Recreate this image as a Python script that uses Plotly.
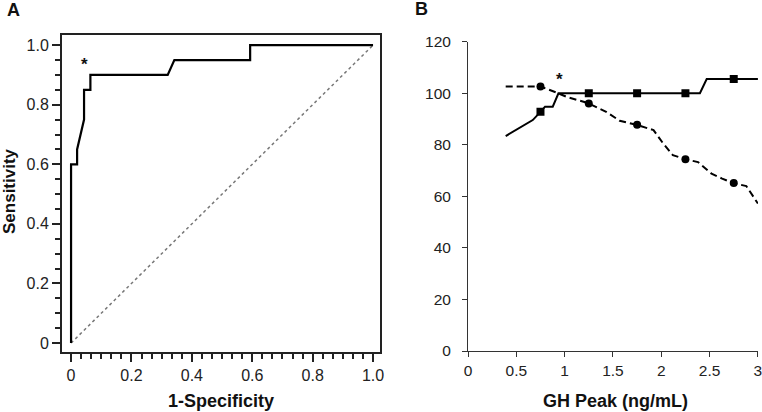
import plotly.graph_objects as go

# ---- Panel A: ROC curve ----
roc_fpr = [0, 0, 0.02, 0.02, 0.043, 0.043, 0.064, 0.064, 0.32, 0.342, 0.593, 0.593, 1.0]
roc_tpr = [0, 0.6, 0.6, 0.65, 0.75, 0.85, 0.85, 0.9, 0.9, 0.95, 0.95, 1.0, 1.0]
ref_x = [0, 1]
ref_y = [0, 1]
a_ticks = [0, 0.2, 0.4, 0.6, 0.8, 1.0]
a_ticktext = ["0", "0.2", "0.4", "0.6", "0.8", "1.0"]

# ---- Panel B: sensitivity / specificity vs GH peak ----
sens_x = [0.39, 0.67, 0.75, 0.797, 0.877, 0.936, 2.25, 2.40, 2.47, 2.74, 3.0]
sens_y = [83.4, 89.6, 92.8, 94.8, 94.8, 100, 100, 100, 105.5, 105.5, 105.5]
spec_x = [0.39, 0.75, 0.92, 1.02, 1.24, 1.43, 1.57, 1.74, 1.92, 2.02, 2.12, 2.25,
          2.38, 2.52, 2.63, 2.74, 2.88, 2.92, 3.0]
spec_y = [102.6, 102.6, 100.2, 98.6, 96.2, 92.8, 89.3, 87.8, 85.7, 80.5, 76.0, 74.4,
          73.3, 68.8, 66.9, 65.2, 64.0, 61.9, 57.2]
mark_x = [0.75, 1.25, 1.75, 2.25, 2.75]
sens_marks = [92.8, 100, 100, 100, 105.5]
spec_marks = [102.6, 96.0, 87.8, 74.4, 65.2]

W, H = 762, 412
font = "Liberation Sans, Arial, sans-serif"

fig = go.Figure()

fig.add_trace(go.Scatter(x=ref_x, y=ref_y, mode="lines",
                         line=dict(color="#777", width=1.5, dash="dot"),
                         xaxis="x", yaxis="y"))
fig.add_trace(go.Scatter(x=roc_fpr, y=roc_tpr, mode="lines",
                         line=dict(color="black", width=2.2),
                         xaxis="x", yaxis="y"))

fig.add_trace(go.Scatter(x=spec_x, y=spec_y, mode="lines",
                         line=dict(color="black", width=2, dash="7px,4px"),
                         xaxis="x2", yaxis="y2"))
fig.add_trace(go.Scatter(x=sens_x, y=sens_y, mode="lines",
                         line=dict(color="black", width=2),
                         xaxis="x2", yaxis="y2"))
fig.add_trace(go.Scatter(x=mark_x, y=spec_marks, mode="markers",
                         marker=dict(symbol="circle", size=8, color="black"),
                         xaxis="x2", yaxis="y2"))
fig.add_trace(go.Scatter(x=mark_x, y=sens_marks, mode="markers",
                         marker=dict(symbol="square", size=8, color="black"),
                         xaxis="x2", yaxis="y2"))

tickfont_a = dict(family=font, size=16, color="#222")
tickfont_b = dict(family=font, size=15.5, color="#222")

fig.update_layout(
    width=W, height=H,
    margin=dict(l=0, r=0, t=0, b=0, autoexpand=False),
    paper_bgcolor="white", plot_bgcolor="white",
    showlegend=False,
    font=dict(family=font),
    xaxis=dict(
        domain=[62 / W, 380 / W], range=[-0.03, 1.023],
        tickvals=a_ticks, ticktext=a_ticktext,
        showgrid=False, zeroline=False,
        showline=True, linecolor="#222", linewidth=2, mirror=True,
        ticks="outside", ticklen=8, tickwidth=1.5, tickcolor="#222",
        minor=dict(dtick=0.2 / 6, ticks="outside", ticklen=5, tickcolor="#222", tickwidth=1.5, showgrid=False),
        tickfont=tickfont_a, fixedrange=True,
    ),
    yaxis=dict(
        domain=[1 - 352 / H, 1 - 35 / H], range=[-0.03, 1.034],
        tickvals=a_ticks, ticktext=a_ticktext,
        showgrid=False, zeroline=False,
        showline=True, linecolor="#222", linewidth=2, mirror=True,
        ticks="outside", ticklen=8, tickwidth=1.5, tickcolor="#222",
        minor=dict(dtick=0.05, ticks="outside", ticklen=5, tickcolor="#222", tickwidth=1.5, showgrid=False),
        tickfont=tickfont_a, fixedrange=True,
    ),
    xaxis2=dict(
        domain=[468 / W, 758 / W], range=[0, 3.001], dtick=0.5,
        anchor="y2",
        showgrid=False, zeroline=False,
        showline=True, linecolor="#333", linewidth=1,
        ticks="outside", ticklen=5, tickcolor="#333",
        ticklabeloverflow="allow",
        tickfont=tickfont_b, fixedrange=True,
    ),
    yaxis2=dict(
        domain=[1 - 351 / H, 1 - 41.7 / H], range=[0, 120], dtick=20,
        anchor="x2",
        showgrid=False, zeroline=False,
        showline=True, linecolor="#333", linewidth=1,
        ticks="outside", ticklen=5, tickcolor="#333",
        ticklabelstandoff=8,
        tickfont=tickfont_b, fixedrange=True,
    ),
)

bold = dict(family=font, size=18, color="#111")
annos = [
    dict(text="<b>A</b>", x=13 / W, y=1 - 10 / H, font=dict(family=font, size=18, color="#111")),
    dict(text="<b>B</b>", x=421 / W, y=1 - 9 / H, font=dict(family=font, size=18, color="#111")),
    dict(text="<b>1-Specificity</b>", x=221 / W, y=1 - 401 / H, font=bold),
    dict(text="<b>GH Peak (ng/mL)</b>", x=615 / W, y=1 - 401 / H, font=bold),
    dict(text="<b>Sensitivity</b>", x=9 / W, y=1 - 191 / H,
         font=dict(family=font, size=17, color="#111"), textangle=-90),
]
for a in annos:
    fig.add_annotation(xref="paper", yref="paper", showarrow=False,
                       xanchor="center", yanchor="middle", **a)

star = dict(family=font, size=17, color="#111")
fig.add_annotation(text="<b>*</b>", x=0.046, y=0.94, xref="x", yref="y",
                   showarrow=False, yshift=-1, font=star)
fig.add_annotation(text="<b>*</b>", x=0.95, y=106, xref="x2", yref="y2",
                   showarrow=False, yshift=-2, font=star)

fig.write_html("out.html", config={"displayModeBar": False},
               post_script="document.body.style.margin='0px';")
